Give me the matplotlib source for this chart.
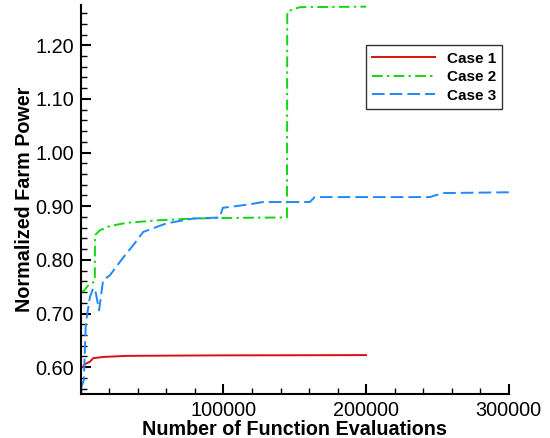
import matplotlib
matplotlib.use("Agg")
import matplotlib.pyplot as plt
from matplotlib.ticker import MultipleLocator, FixedLocator

plt.rcParams['font.family'] = ['Liberation Sans', 'DejaVu Sans']

case1_x = [0, 1500, 2800, 6300, 8600, 15600, 32000, 60000, 100000, 150000, 200000]
case1_y = [0.598, 0.6005, 0.6056, 0.610, 0.6167, 0.619, 0.621, 0.6215, 0.622, 0.6222, 0.6225]

case2_x = [0, 2000, 6300, 8600, 9800, 9900, 13300, 20300, 32000, 55400, 78700, 100000, 125400, 144500, 144700, 150000, 153500, 200000]
case2_y = [0.740, 0.742, 0.756, 0.758, 0.760, 0.846, 0.855, 0.863, 0.869, 0.874, 0.877, 0.878, 0.8787, 0.879, 1.263, 1.268, 1.271, 1.272]

case3_x = [0, 2100, 3500, 6300, 8600, 10000, 12800, 15600, 20300, 27300, 32000, 37800, 43700, 50700, 60000, 78700, 97400, 99500,
           118400, 127500, 160500, 164000, 244600, 253700, 300000]
case3_y = [0.560, 0.576, 0.682, 0.730, 0.747, 0.745, 0.706, 0.762, 0.771, 0.796, 0.812, 0.831, 0.852, 0.859, 0.868, 0.877, 0.879, 0.897,
           0.9035, 0.9078, 0.9078, 0.917, 0.917, 0.9245, 0.926]

fig = plt.figure(figsize=(5.5, 4.38), dpi=100)
ax = fig.add_axes([0.147, 0.1005, 0.778, 0.888])

ax.plot(case1_x, case1_y, color='#d81010', lw=1.4, label='Case 1')
ax.plot(case2_x, case2_y, color='#10d810', lw=1.4, ls=(0, (5.5, 2.2, 1.2, 2.2)), label='Case 2')
ax.plot(case3_x, case3_y, color='#1e88ff', lw=1.4, ls=(0, (6.5, 2.6)), label='Case 3')

ax.set_xlim(0, 300000)
ax.set_ylim(0.55, 1.275)
ax.xaxis.set_major_locator(FixedLocator([100000, 200000, 300000]))
ax.xaxis.set_minor_locator(MultipleLocator(20000))
ax.yaxis.set_major_locator(MultipleLocator(0.1))
ax.yaxis.set_minor_locator(MultipleLocator(0.02))
ax.yaxis.set_major_formatter(matplotlib.ticker.FormatStrFormatter('%.2f'))
ax.xaxis.set_major_formatter(matplotlib.ticker.FormatStrFormatter('%d'))

for s in ['top', 'right']:
    ax.spines[s].set_visible(False)
for s in ['left', 'bottom']:
    ax.spines[s].set_linewidth(1.5)

ax.tick_params(which='major', direction='in', length=7, width=1.5, labelsize=14.3, pad=5)
ax.tick_params(which='minor', direction='in', length=4, width=1.0)

ax.set_xlabel('Number of Function Evaluations', fontsize=14.2, fontweight='bold', labelpad=0)
ax.set_ylabel('Normalized Farm Power', fontsize=14.2, fontweight='bold', labelpad=1)

leg = ax.legend(loc='upper left', bbox_to_anchor=(0.667, 0.896), borderaxespad=0,
                prop={'weight': 'bold', 'size': 11},
                frameon=True, fancybox=False, edgecolor='black', handlelength=4.1, borderpad=0.4,
                labelspacing=0.3, handletextpad=0.78)
leg.get_frame().set_linewidth(1.0)

fig.savefig('out.png', dpi=100)
